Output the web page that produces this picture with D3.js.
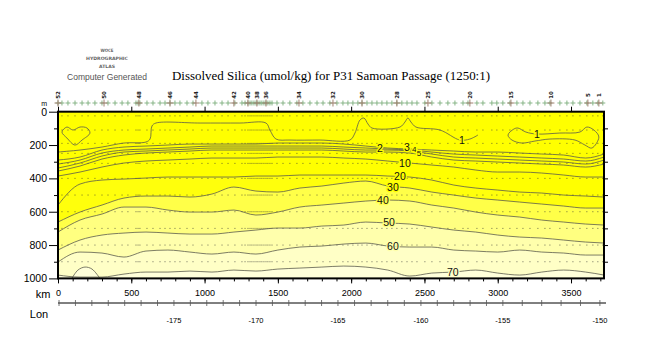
<!DOCTYPE html>
<html>
<head>
<meta charset="utf-8">
<script src="https://cdn.jsdelivr.net/npm/d3@7"></script>
<style>
  body { margin: 0; background: #fff; }
  svg { display: block; }
</style>
</head>
<body>
<div id="chart"></div>
<script>
// section grid (km along track) and depth (m) of each silica isoline on it
const gridKm = [0,150,300,450,600,750,900,1050,1200,1350,1500,1650,1800,1950,2100,2250,2400,2550,2700,2850,3000,3150,3300,3450,3600,3725];
const si2  = [290,272,230,212,206,200,194,194,194,194,188,188,188,194,206,218,224,230,236,242,242,248,254,260,278,254];
const si3  = [314,290,248,230,224,218,212,206,206,206,206,206,206,212,218,224,230,242,254,260,266,272,278,284,296,272];
const si4  = [338,308,266,242,236,230,224,218,218,218,218,218,218,224,230,230,236,254,272,278,284,290,296,302,314,290];
const si5  = [356,326,284,260,248,242,236,230,230,230,230,230,230,236,242,242,248,272,290,296,302,308,314,320,332,314];
const si10 = [386,362,332,308,296,290,284,278,278,278,272,272,272,278,284,296,308,320,332,350,362,362,368,380,392,392];
const si20 = [560,434,410,404,398,392,392,392,392,386,386,380,380,380,380,386,392,410,440,458,470,482,488,500,506,512];
const si30 = [662,602,560,518,506,506,512,494,452,476,482,458,446,428,416,446,458,482,500,518,530,542,554,566,578,578];
const si40 = [722,650,614,572,572,590,602,602,590,620,602,572,560,548,536,530,536,560,578,602,620,632,650,662,674,680];
const si50 = [830,770,740,728,722,728,734,734,722,710,698,698,686,680,662,668,674,692,710,722,740,752,758,770,782,788];
const si60 = [902,842,848,872,836,830,842,854,842,854,830,812,806,794,788,806,812,812,830,836,842,830,842,848,860,860];
const si70 = [980,992,992,974,962,962,956,962,950,956,944,938,932,926,932,950,986,968,962,950,968,980,962,950,962,980];

// the 1 umol/kg isoline and closed pieces
const iso1Km    = [0,150,300,450,600,628,641,668,969,1241,1419,1446,1487,1582,1787,1992,2026,2060,2087,2115,2142,2333,2367,2387,2408,2442,2606,2742,2810,2865];
const iso1Depth = [242,230,212,188,182,164,86,68,68,68,68,110,164,170,170,170,128,50,38,74,98,92,62,38,62,92,110,170,164,140];
const loopWestKm    = [27,61,102,150,198,218,164,116,61];
const loopWestDepth = [122,92,110,92,98,128,170,200,158];
const loopEastKm    = [3070,3110,3138,3192,3267,3424,3561,3608,3656,3690,3642,3595,3527,3356,3254,3165,3097];
const loopEastDepth = [140,104,98,122,134,128,122,92,110,152,218,200,170,164,176,188,170];
const domeKm    = [95,136,184,232,286];
const domeDepth = [1000,950,932,944,1000];

// contour labels
const labelText  = ['1','1','2','3','4','5','10','20','30','40','50','60','70'];
const labelKm    = [2756,3267,2196,2380,2430,2462,2367,2333,2285,2217,2258,2285,2694];
const labelDepth = [170,134,218,216,226,250,308,386,452,530,662,806,962];
const labelSize  = [10.5,10.5,10.5,10.5,8,8,10.5,10.5,10.5,10.5,10.5,10.5,10.5];

// stations (km) and bottle depths
const stationKm = [0,27,68,116,164,205,252,300,341,389,437,477,532,546,559,607,648,696,730,764,798,832,880,921,982,1023,1071,1119,1160,1207,1255,1276,1296,1310,1323,1337,1351,1364,1378,1391,1405,1419,1432,1446,1460,1494,1535,1582,1630,1671,1719,1767,1808,1855,1903,1944,1978,2012,2046,2074,2108,2142,2176,2210,2244,2278,2312,2346,2381,2415,2449,2503,2551,2606,2660,2708,2763,2797,2858,2899,2960,2994,3035,3083,3131,3172,3220,3274,3322,3356,3424,3472,3513,3561,3608,3649,3683,3717];
const bottleDepth = [25,110,190,250,310,400,500,600,700,800,900];
const stnLabelKm   = [0,314,552,764,941,1200,1296,1357,1419,1644,1876,2074,2312,2524,2810,3090,3363,3615,3690];
const stnLabelText = ['52','50','48','46','44','42','40','38','36','34','32','30','28','25','20','15','10','5','1'];

// axes
const depthTicks = [0,200,400,600,800,1000];
const kmTicks = [0,500,1000,1500,2000,2500,3000,3500];
const lonVals = [-175,-170,-165,-160,-155,-150];
const lonKm   = [791,1351,1910,2476,3035,3697];

const W = 650, H = 350;
const svg = d3.select('#chart').append('svg').attr('width', W).attr('height', H);
const x = d3.scaleLinear().domain([0, 3725]).range([58, 604]);
const y = d3.scaleLinear().domain([0, 1000]).range([111.7, 278.4]);
const lonToKm = d3.scaleLinear().domain(lonVals).range(lonKm);
const fmt = d3.format('d');

const bandFill = ['#ffff0c', '#ffff48', '#ffff80', '#ffffac', '#ffffc6', '#ffffda'];
const lineCol = '#5c5c4c';
const sans = 'Liberation Sans, Arial, sans-serif';

svg.append('clipPath').attr('id', 'clip').append('rect')
  .attr('x', x(0)).attr('y', y(0)).attr('width', x(3725) - x(0)).attr('height', y(1000) - y(0));
const plot = svg.append('g').attr('clip-path', 'url(#clip)');

plot.append('rect')
  .attr('x', x(0)).attr('y', y(0)).attr('width', x(3725) - x(0)).attr('height', y(1000) - y(0))
  .attr('fill', '#ffff00');

const area = d3.area()
  .x((d, i) => x(gridKm[i])).y0(y(1000)).y1(d => y(d))
  .curve(d3.curveMonotoneX);
const line = d3.line()
  .x((d, i) => x(gridKm[i])).y(d => y(d))
  .curve(d3.curveMonotoneX);

[si20, si30, si40, si50, si60, si70].forEach((s, k) => {
  plot.append('path').attr('d', area(s)).attr('fill', bandFill[k]);
});

const pairLine = d3.line().x(d => x(d[0])).y(d => y(d[1])).curve(d3.curveCatmullRom.alpha(0.5));
const pairLoop = d3.line().x(d => x(d[0])).y(d => y(d[1])).curve(d3.curveCatmullRomClosed.alpha(0.5));
plot.append('path').attr('d', pairLine(d3.zip(domeKm, domeDepth)))
  .attr('fill', bandFill[5]).attr('stroke', lineCol).attr('stroke-width', 0.8);

// bottle dots
stationKm.forEach(k => {
  plot.append('g').selectAll('rect').data(bottleDepth).enter().append('rect')
    .attr('x', x(k) - 0.5).attr('y', d => y(d) - 0.5)
    .attr('width', 1).attr('height', 1)
    .attr('fill', '#333').attr('opacity', 0.7);
});

// isolines
[si2, si3, si4, si5, si10, si20, si30, si40, si50, si60, si70].forEach(s => {
  plot.append('path').attr('d', line(s)).attr('fill', 'none')
    .attr('stroke', lineCol).attr('stroke-width', 0.8);
});
plot.append('path').attr('d', pairLine(d3.zip(iso1Km, iso1Depth)))
  .attr('fill', 'none').attr('stroke', lineCol).attr('stroke-width', 0.8);
[[loopWestKm, loopWestDepth], [loopEastKm, loopEastDepth]].forEach(p => {
  plot.append('path').attr('d', pairLoop(d3.zip(p[0], p[1])))
    .attr('fill', 'none').attr('stroke', lineCol).attr('stroke-width', 0.8);
});

// contour labels, with a halo in the local fill
const haloFor = v => v <= 30 ? '#ffff00' : v === 40 ? bandFill[1] : v === 50 ? bandFill[2] : v === 60 ? bandFill[3] : bandFill[4];
plot.append('g').selectAll('text').data(labelText).enter().append('text')
  .attr('x', (d, i) => x(labelKm[i])).attr('y', (d, i) => y(labelDepth[i]) + labelSize[i] / 3)
  .attr('text-anchor', 'middle')
  .attr('font-family', sans).attr('font-size', (d, i) => labelSize[i])
  .attr('fill', '#111')
  .attr('stroke', d => haloFor(+d)).attr('stroke-width', 2.5).attr('paint-order', 'stroke')
  .text(d => d);

// frame
svg.append('rect')
  .attr('x', x(0)).attr('y', y(0)).attr('width', x(3725) - x(0)).attr('height', y(1000) - y(0))
  .attr('fill', 'none').attr('stroke', '#000').attr('stroke-width', 2);

const styleAxis = g => {
  g.select('.domain').remove();
  g.selectAll('line').attr('stroke', '#000');
  g.selectAll('text').attr('font-family', sans).attr('fill', '#000');
};

// left depth axis
svg.append('g').attr('transform', `translate(${x(0)},0)`)
  .call(d3.axisLeft(y).tickValues(d3.range(100, 1000, 200)).tickSize(4).tickFormat(''))
  .call(styleAxis);
svg.append('g').attr('transform', `translate(${x(0)},0)`)
  .call(d3.axisLeft(y).tickValues(depthTicks).tickSize(9).tickPadding(2).tickFormat(fmt))
  .call(styleAxis)
  .call(g => g.selectAll('text').attr('font-size', 10.5));
svg.append('text').attr('x', 47).attr('y', 106).attr('text-anchor', 'end')
  .attr('font-family', sans).attr('font-size', 7).text('m');

// right ticks
svg.append('g').attr('transform', `translate(${x(3725)},0)`)
  .call(d3.axisRight(y).tickValues(d3.range(100, 1000, 100)).tickSize(4).tickFormat(''))
  .call(styleAxis);

// top ticks and station markers
svg.append('g').attr('transform', `translate(0,${y(0)})`)
  .call(d3.axisTop(x).tickValues(kmTicks).tickSize(5).tickFormat(''))
  .call(styleAxis);
const cross = svg.append('g');
stationKm.forEach(k => {
  const cx = x(k), cy = 103;
  cross.append('path').attr('d', `M${cx - 2.5},${cy}H${cx + 2.5}M${cx},${cy - 2.5}V${cy + 2.5}`)
    .attr('stroke', '#86b486').attr('stroke-width', 1);
});
stnLabelKm.forEach((k, i) => {
  const cx = x(k);
  cross.append('path').attr('d', `M${cx - 3.5},103H${cx + 3.5}M${cx},99.5V106.5`)
    .attr('stroke', '#a08070').attr('stroke-width', 1);
  svg.append('text').attr('transform', `translate(${cx + 2},95) rotate(-90)`)
    .attr('text-anchor', 'middle').attr('font-family', 'DejaVu Sans, sans-serif')
    .attr('font-size', 5.5).attr('font-weight', 'bold').attr('fill', '#222')
    .text(stnLabelText[i]);
});

// bottom km axis
svg.append('g').attr('transform', `translate(0,${y(1000)})`)
  .call(d3.axisBottom(x).tickValues(d3.range(0, 3725, 100)).tickSize(3).tickFormat(''))
  .call(styleAxis);
svg.append('g').attr('transform', `translate(0,${y(1000)})`)
  .call(d3.axisBottom(x).tickValues(kmTicks).tickSize(5).tickPadding(6).tickFormat(fmt))
  .call(styleAxis)
  .call(g => g.selectAll('text').attr('font-size', 9));
svg.append('text').attr('x', 43).attr('y', 298).attr('text-anchor', 'middle')
  .attr('font-family', sans).attr('font-size', 11).text('km');

// longitude axis
const lonY = 303;
svg.append('line').attr('x1', x(0)).attr('x2', 606).attr('y1', lonY).attr('y2', lonY)
  .attr('stroke', '#000').attr('stroke-width', 1);
svg.append('g').selectAll('line').data(d3.range(-182, -149, 1)).enter().append('line')
  .attr('x1', d => x(lonToKm(d))).attr('x2', d => x(lonToKm(d)))
  .attr('y1', lonY - 3).attr('y2', lonY + 3)
  .attr('stroke', '#555').attr('stroke-width', 0.8);
svg.append('g').selectAll('text').data(lonVals).enter().append('text')
  .attr('x', d => x(lonToKm(d))).attr('y', 323).attr('text-anchor', 'middle')
  .attr('font-family', sans).attr('font-size', 7.5)
  .text(d => '-' + Math.abs(d));
svg.append('text').attr('x', 39).attr('y', 318).attr('text-anchor', 'middle')
  .attr('font-family', sans).attr('font-size', 11).text('Lon');

// title and logo
svg.append('text').attr('x', 331).attr('y', 80).attr('text-anchor', 'middle')
  .attr('font-family', 'Liberation Serif, DejaVu Serif, serif').attr('font-size', 13)
  .attr('textLength', 318).attr('lengthAdjust', 'spacingAndGlyphs')
  .text('Dissolved Silica (umol/kg) for P31 Samoan Passage (1250:1)');
const logo = [['WOCE', 52, 13], ['HYDROGRAPHIC', 60, 42], ['ATLAS', 68, 16]];
logo.forEach(l => {
  svg.append('text').attr('x', 107).attr('y', l[1]).attr('text-anchor', 'middle')
    .attr('font-family', 'DejaVu Sans, sans-serif').attr('font-size', 4.5).attr('font-weight', 'bold')
    .attr('fill', '#666').attr('textLength', l[2]).attr('lengthAdjust', 'spacingAndGlyphs').text(l[0]);
});
svg.append('text').attr('x', 107).attr('y', 80).attr('text-anchor', 'middle')
  .attr('font-family', sans).attr('font-size', 9).attr('fill', '#555')
  .attr('textLength', 80).attr('lengthAdjust', 'spacingAndGlyphs').text('Computer Generated');
</script>
</body>
</html>
